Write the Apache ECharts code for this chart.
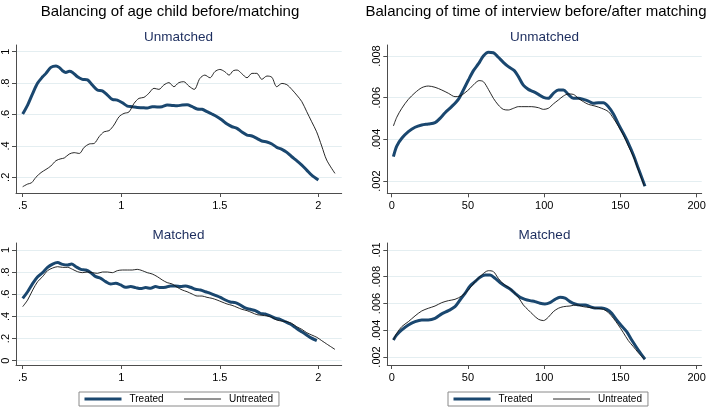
<!DOCTYPE html>
<html>
<head>
<meta charset="utf-8">
<script src="https://cdn.jsdelivr.net/npm/echarts@6/dist/echarts.min.js"></script>
<style>html,body{margin:0;padding:0;background:#fff}#c{width:709px;height:408px}</style>
</head>
<body>
<div id="c"></div>
<script>
// ---------- DATA ----------
var seriesNames = ['Treated', 'Untreated'];
var mainTitles = ['Balancing of age child before/matching', 'Balancing of time of interview before/after matching'];
var panelTitles = ['Unmatched', 'Matched'];

var ageTicksX = [0.5, 1, 1.5, 2];
var ageTicksYUnm = [0.2, 0.4, 0.6, 0.8, 1];
var ageTicksYMat = [0, 0.2, 0.4, 0.6, 0.8, 1];
var timeTicksX = [0, 50, 100, 150, 200];
var timeTicksYUnm = [0.002, 0.004, 0.006, 0.008];
var timeTicksYMat = [0.002, 0.004, 0.006, 0.008, 0.01];

// Age of child, unmatched: [age, density]
var ageUnmTreated = [[.5,.603],[.525,.66],[.551,.735],[.576,.80],[.601,.84],[.618,.862],[.643,.90],[.669,.909],[.685,.90],[.702,.879],[.719,.868],[.736,.875],[.753,.868],[.778,.84],[.803,.824],[.829,.82],[.853,.788],[.879,.756],[.904,.75],[.93,.724],[.955,.696],[.98,.692],[1.006,.675],[1.031,.654],[1.056,.65],[1.081,.645],[1.106,.643],[1.132,.641],[1.157,.65],[1.182,.648],[1.207,.65],[1.233,.66],[1.258,.658],[1.284,.656],[1.309,.66],[1.334,.662],[1.36,.65],[1.385,.635],[1.41,.633],[1.435,.618],[1.46,.603],[1.486,.586],[1.511,.565],[1.537,.539],[1.562,.522],[1.587,.512],[1.612,.488],[1.638,.469],[1.663,.463],[1.688,.448],[1.713,.431],[1.739,.425],[1.764,.412],[1.789,.391],[1.815,.378],[1.84,.359],[1.865,.331],[1.89,.306],[1.916,.278],[1.941,.246],[1.966,.214],[2.0,.183]];
var ageUnmUntreated = [[.5,.14],[.525,.157],[.545,.165],[.567,.2],[.593,.23],[.618,.25],[.643,.272],[.669,.306],[.694,.318],[.711,.323],[.736,.348],[.761,.357],[.787,.352],[.812,.391],[.837,.412],[.863,.416],[.888,.459],[.913,.49],[.938,.497],[.963,.533],[.989,.586],[1.014,.607],[1.039,.616],[1.065,.671],[1.09,.703],[1.115,.709],[1.14,.735],[1.166,.767],[1.191,.76],[1.216,.788],[1.242,.803],[1.267,.777],[1.292,.803],[1.317,.809],[1.343,.781],[1.37,.76],[1.399,.83],[1.424,.851],[1.45,.834],[1.475,.873],[1.5,.887],[1.525,.873],[1.547,.851],[1.568,.879],[1.588,.883],[1.61,.862],[1.638,.834],[1.663,.862],[1.688,.862],[1.713,.824],[1.739,.845],[1.764,.837],[1.789,.777],[1.815,.798],[1.84,.79],[1.865,.76],[1.89,.724],[1.916,.682],[1.941,.618],[1.966,.554],[1.991,.49],[2.017,.399],[2.042,.31],[2.084,.225]];

// Age of child, matched
var ageMatTreated = [[.5,.563],[.525,.623],[.551,.699],[.576,.759],[.601,.795],[.626,.843],[.652,.873],[.677,.886],[.702,.87],[.728,.864],[.748,.873],[.77,.849],[.795,.825],[.82,.819],[.846,.795],[.871,.759],[.896,.744],[.921,.714],[.947,.693],[.972,.699],[.997,.684],[1.022,.663],[1.048,.669],[1.073,.66],[1.098,.651],[1.124,.66],[1.149,.654],[1.174,.669],[1.199,.66],[1.225,.663],[1.25,.675],[1.275,.675],[1.301,.669],[1.326,.675],[1.351,.663],[1.376,.645],[1.402,.639],[1.427,.623],[1.452,.608],[1.478,.59],[1.503,.572],[1.528,.548],[1.553,.53],[1.579,.524],[1.604,.503],[1.629,.476],[1.655,.464],[1.68,.452],[1.705,.428],[1.73,.422],[1.756,.404],[1.781,.383],[1.806,.373],[1.832,.352],[1.857,.331],[1.882,.301],[1.907,.271],[1.933,.241],[1.958,.211],[1.992,.181]];
var ageMatUntreated = [[.5,.488],[.525,.548],[.551,.639],[.576,.714],[.601,.759],[.626,.813],[.652,.837],[.677,.849],[.702,.843],[.728,.843],[.753,.825],[.778,.804],[.803,.795],[.829,.801],[.854,.795],[.879,.789],[.905,.801],[.93,.801],[.955,.795],[.98,.813],[1.006,.819],[1.031,.819],[1.056,.819],[1.081,.825],[1.107,.813],[1.132,.795],[1.157,.783],[1.183,.759],[1.208,.729],[1.233,.705],[1.258,.693],[1.284,.663],[1.309,.639],[1.334,.623],[1.36,.602],[1.385,.584],[1.41,.584],[1.435,.572],[1.461,.563],[1.486,.548],[1.511,.53],[1.537,.512],[1.562,.5],[1.587,.482],[1.612,.464],[1.638,.452],[1.663,.434],[1.688,.416],[1.714,.41],[1.739,.404],[1.764,.392],[1.789,.367],[1.815,.358],[1.84,.352],[1.865,.337],[1.89,.307],[1.916,.283],[1.941,.253],[1.966,.232],[1.992,.211],[2.017,.181],[2.042,.151],[2.084,.102]];

// Time of interview, unmatched: [time, density]
var timeUnmTreated = [[1.1,.00317],[3.3,.00368],[6.6,.00405],[10.9,.00437],[15.3,.00458],[19.7,.00469],[24.0,.00474],[28.4,.0048],[31.7,.00501],[35.0,.00528],[39.3,.00557],[43.7,.00592],[47.0,.00637],[50.3,.00685],[53.6,.0073],[56.8,.00762],[60.1,.008],[63.4,.00818],[66.7,.00816],[69.9,.00794],[73.2,.0077],[76.5,.00749],[80.4,.0073],[83.1,.00701],[86.3,.0066],[89.6,.0064],[92.9,.00629],[96.2,.00616],[99.5,.00602],[102.7,.00597],[106.0,.00621],[109.3,.00637],[112.6,.00637],[115.8,.00616],[119.1,.00597],[122.4,.00597],[125.7,.00592],[129.0,.00584],[132.2,.00573],[135.5,.00576],[138.8,.00576],[142.1,.00557],[145.4,.00522],[148.6,.00474],[151.9,.00429],[155.2,.00381],[158.5,.00325],[161.7,.00261],[166.1,.00175]];
var timeUnmUntreated = [[1.1,.00464],[3.3,.00506],[6.6,.00549],[10.9,.00592],[15.3,.00624],[19.7,.00648],[24.0,.00656],[28.4,.0065],[32.8,.00637],[37.2,.00621],[41.5,.00605],[44.8,.00608],[48.1,.00624],[51.4,.00645],[54.6,.00669],[57.3,.00682],[60.1,.00677],[63.4,.0064],[66.7,.00597],[69.9,.00565],[73.2,.00544],[76.5,.00541],[79.8,.00549],[83.1,.00557],[87.4,.00557],[91.8,.00557],[96.2,.00552],[99.5,.00544],[102.7,.00549],[106.0,.0057],[109.3,.00589],[112.6,.00608],[115.8,.00618],[119.1,.00616],[122.4,.00597],[125.7,.00581],[129.0,.00568],[133.3,.0056],[137.7,.00549],[142.1,.00533],[145.4,.00501],[148.6,.00464],[151.9,.00421],[155.2,.00368],[158.5,.00317],[161.7,.00253],[165.7,.00176]];

// Time of interview, matched
var timeMatTreated = [[1.1,.00327],[3.3,.00365],[6.6,.00402],[10.9,.00439],[15.3,.00464],[19.7,.00477],[24.0,.00477],[28.4,.00489],[32.8,.00522],[37.2,.00546],[41.5,.00576],[44.8,.00626],[48.1,.00676],[51.4,.00731],[54.6,.00763],[57.9,.00796],[61.2,.00813],[64.5,.00813],[67.8,.00788],[71.0,.00756],[74.3,.00731],[77.6,.00708],[80.9,.00676],[84.2,.00646],[87.4,.00631],[90.7,.00621],[94.0,.00614],[97.3,.00601],[100.5,.00596],[103.8,.00606],[107.1,.00631],[110.4,.00646],[113.7,.00639],[116.9,.00614],[120.2,.00596],[123.5,.00589],[126.8,.00589],[130.1,.00576],[133.3,.00566],[137.7,.00566],[141.0,.00556],[144.3,.00527],[147.5,.00477],[150.8,.00432],[154.1,.00389],[157.4,.00327],[161.7,.00252],[166.1,.00183]];
var timeMatUntreated = [[1.1,.00327],[3.3,.00377],[6.6,.00427],[10.9,.00464],[15.3,.00507],[19.7,.00544],[24.0,.00564],[28.4,.00581],[32.8,.00606],[37.2,.00621],[41.5,.00631],[45.9,.00656],[50.3,.00701],[54.6,.00763],[59.0,.00813],[63.4,.00845],[66.7,.00838],[69.9,.00788],[73.2,.00746],[76.5,.00721],[79.8,.00688],[83.1,.00646],[86.3,.00589],[89.6,.00551],[92.9,.00514],[96.2,.00482],[99.5,.00472],[102.7,.00497],[106.0,.00539],[109.3,.00564],[112.6,.00576],[116.9,.00581],[121.3,.00589],[125.7,.00576],[130.1,.00569],[134.4,.00564],[138.8,.00556],[142.1,.00532],[145.4,.00489],[148.6,.00439],[151.9,.00382],[155.2,.00322],[158.5,.00277],[161.7,.00232],[165.7,.00183]];

// ---------- CHART ----------
var FONT = '"Liberation Sans", Arial, sans-serif';
var TREATED = '#1a476f';
var UNTREATED = '#111';
var AXIS = '#4d4d4d';
var GRIDLINE = '#e4eef1';
function fmt(v) {
  var s = String(+v.toPrecision(6));
  return s.replace(/^0\./, '.').replace(/^-0\./, '-.');
}
function xAx(gi, min, max, vals) {
  return {
    type: 'value', gridIndex: gi, min: min, max: max,
    axisLine: { show: true, onZero: false, lineStyle: { color: AXIS, width: 1 } },
    axisTick: { show: true, length: 4, customValues: vals, lineStyle: { color: AXIS } },
    axisLabel: { customValues: vals, formatter: fmt, fontSize: 11, color: '#000', margin: 7, fontFamily: FONT },
    splitLine: { show: false }
  };
}
function yAx(gi, min, max, vals) {
  return {
    type: 'value', gridIndex: gi, min: min, max: max,
    axisLine: { show: true, onZero: false, lineStyle: { color: AXIS, width: 1 } },
    axisTick: { show: true, length: 4, customValues: vals, lineStyle: { color: AXIS } },
    axisLabel: { customValues: vals, formatter: fmt, fontSize: 11, color: '#000', margin: 5, rotate: 90, fontFamily: FONT },
    splitLine: { show: true, customValues: vals, lineStyle: { color: GRIDLINE, width: 1 } }
  };
}
function line(name, gi, data) {
  var t = name === seriesNames[0];
  return {
    name: name, type: 'line', xAxisIndex: gi, yAxisIndex: gi, data: data,
    symbol: 'none', smooth: 0.3, z: t ? 3 : 4,
    lineStyle: { color: t ? TREATED : UNTREATED, width: t ? 3 : 0.9 },
    itemStyle: { color: t ? TREATED : UNTREATED }
  };
}
function txt(x, y, s, size, color) {
  return { type: 'text', x: x, y: y, style: { text: s, font: size + 'px ' + FONT, fill: color, textAlign: 'center', textVerticalAlign: 'middle' } };
}
function legend(left) {
  return {
    data: [
      { name: seriesNames[0], lineStyle: { color: TREATED, width: 3 } },
      { name: seriesNames[1], lineStyle: { color: UNTREATED, width: 0.9 } }
    ],
    left: left, top: 392, orient: 'horizontal',
    itemWidth: 37, itemHeight: 12, itemGap: 20,
    padding: [2, 6, 2, 4], borderColor: '#8a8a8a', borderWidth: 1, borderRadius: 0,
    selectedMode: false,
    itemStyle: { color: 'transparent', borderWidth: 0, opacity: 0 },
    textStyle: { fontSize: 10, color: '#000', fontFamily: FONT, padding: [0, 0, 0, 3] }
  };
}

var chart = echarts.init(document.getElementById('c'), null, { renderer: 'canvas' });
chart.setOption({
  backgroundColor: '#fff',
  animation: false,
  grid: [
    { left: 15, top: 45, width: 326.7, height: 148 },
    { left: 15, top: 243, width: 326.7, height: 122 },
    { left: 387.3, top: 45, width: 314.4, height: 148.3 },
    { left: 387.3, top: 243, width: 314.4, height: 122 }
  ],
  xAxis: [
    xAx(0, 0.4661, 2.1183, ageTicksX),
    xAx(1, 0.4661, 2.1183, ageTicksX),
    xAx(2, -2.9, 203.3, timeTicksX),
    xAx(3, -2.9, 203.3, timeTicksX)
  ],
  yAxis: [
    yAx(0, 0.1, 1.0427, ageTicksYUnm),
    yAx(1, -0.039, 1.063, ageTicksYMat),
    yAx(2, 0.00141, 0.00853, timeTicksYUnm),
    yAx(3, 0.0014, 0.01052, timeTicksYMat)
  ],
  legend: [legend(79), legend(448)],
  graphic: [
    txt(170, 12, mainTitles[0], 15, '#000'),
    txt(536, 12, mainTitles[1], 15, '#000'),
    txt(178.5, 37, panelTitles[0], 13.5, '#1c2d5e'),
    txt(544.5, 37, panelTitles[0], 13.5, '#1c2d5e'),
    txt(178.5, 235, panelTitles[1], 13.5, '#1c2d5e'),
    txt(544.5, 235, panelTitles[1], 13.5, '#1c2d5e')
  ],
  series: [
    line(seriesNames[0], 0, ageUnmTreated),
    line(seriesNames[1], 0, ageUnmUntreated),
    line(seriesNames[0], 1, ageMatTreated),
    line(seriesNames[1], 1, ageMatUntreated),
    line(seriesNames[0], 2, timeUnmTreated),
    line(seriesNames[1], 2, timeUnmUntreated),
    line(seriesNames[0], 3, timeMatTreated),
    line(seriesNames[1], 3, timeMatUntreated)
  ]
});
</script>
</body>
</html>
